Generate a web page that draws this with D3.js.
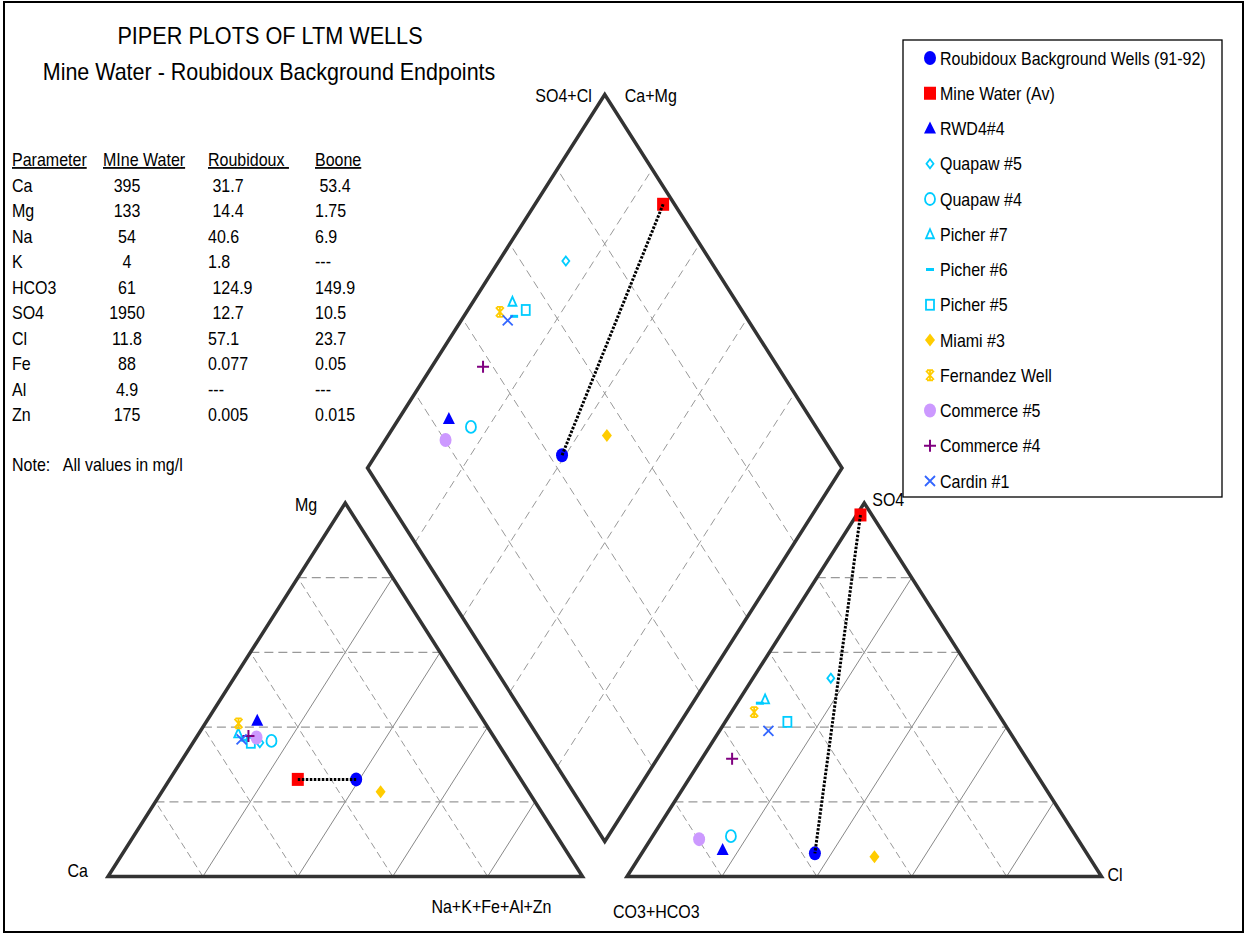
<!DOCTYPE html>
<html>
<head>
<meta charset="utf-8">
<script src="https://cdn.jsdelivr.net/npm/d3@7"></script>
<style>
  body { margin: 0; background: #fff; }
  text { font-family: "Liberation Sans", Arial, sans-serif; fill: #000; white-space: pre; }
</style>
</head>
<body>
<div id="chart"></div>
<script>

// wells in legend order
var wells = ["Roubidoux Background Wells (91-92)", "Mine Water (Av)", "RWD4#4", "Quapaw #5",
  "Quapaw #4", "Picher #7", "Picher #6", "Picher #5", "Miami #3", "Fernandez Well",
  "Commerce #5", "Commerce #4", "Cardin #1"];

// cations, % of meq
var ca  = [34.7, 47.0, 47.7, 50.1, 47.4, 53.4, 52.9, 52.0, 31.2, 52.0, 50.1, 51.6, 53.5];
var mg  = [26.0, 26.0, 41.7, 35.8, 36.3, 38.3, 36.5, 35.8, 22.7, 41.0, 37.2, 37.6, 36.7];
var nak = [39.3, 27.0, 10.6, 14.1, 16.3,  8.3, 10.6, 12.2, 46.1,  7.0, 12.7, 10.8,  9.8];

// anions, % of meq
var hco3 = [57.3,  2.4, 76.3, 30.5, 72.7, 47.2, 48.8, 45.5, 45.2, 51.2, 79.8, 62.1, 50.7];
var so4  = [ 6.2, 96.8,  7.1, 53.1, 10.8, 47.4, 46.4, 41.4,  5.3, 44.0, 10.0, 31.5, 39.0];
var cl   = [36.5,  0.8, 16.6, 16.4, 16.5,  5.4,  4.8, 13.1, 49.5,  4.8, 10.2,  6.4, 10.3];

var colors = ["#0000ff", "#ff0000", "#0000ff", "#00ccff", "#00ccff", "#00ccff", "#00ccff",
  "#00ccff", "#ffcc00", "#ffcc00", "#cc99ff", "#800080", "#3366ff"];
var shapes = ["dot", "square", "tri", "diamondOpen", "circleOpen", "triOpen", "dash",
  "squareOpen", "diamond", "star", "dot", "plus", "x"];

// table
var params    = ["Ca", "Mg", "Na", "K", "HCO3", "SO4", "Cl", "Fe", "Al", "Zn"];
var mineVals  = ["395", "133", "54", "4", "61", "1950", "11.8", "88", "4.9", "175"];
var roubVals  = [" 31.7", " 14.4", "40.6", "1.8", " 124.9", " 12.7", "57.1", "0.077", "---", "0.005"];
var booneVals = [" 53.4", "1.75", "6.9", "---", "149.9", "10.5", "23.7", "0.05", "---", "0.015"];

var width = 1249, height = 937;

var svg = d3.select("#chart")
  .append("svg")
    .attr("width", width)
    .attr("height", height);

// frame
svg.append("rect")
  .attr("x", 4).attr("y", 2).attr("width", 1239).attr("height", 930)
  .attr("fill", "none").attr("stroke", "#000").attr("stroke-width", 2);

// text is a bit condensed in the original
var squeeze = 0.91;
function txt(g, s, x, y, size, anchor) {
  return g.append("text")
    .attr("transform", "translate(" + x + "," + y + ") scale(" + squeeze + ",1)")
    .attr("text-anchor", anchor || "start")
    .attr("font-size", size)
    .text(s);
}

// geometry of the piper plot
var W = 474.5, H = 373.5, baseY = 876.5, leftX = 108, gap = 44.5;
var rightX = leftX + W + gap;
var bx = leftX + W + gap / 2, by = baseY - (gap / 2) * (H / (W / 2));

var xCat = d3.scaleLinear().domain([0, 100]).range([leftX, leftX + W]);
var xAn  = d3.scaleLinear().domain([0, 100]).range([rightX, rightX + W]);
var yTri = d3.scaleLinear().domain([0, 100]).range([baseY, baseY - H]);
var xDia = d3.scaleLinear().domain([-100, 100]).range([bx - W / 2, bx + W / 2]);
var yDia = d3.scaleLinear().domain([0, 200]).range([by, by - 2 * H]);

function catPos(i) { return [xCat(nak[i] + mg[i] / 2), yTri(mg[i])]; }
function anPos(i)  { return [xAn(cl[i] + so4[i] / 2), yTri(so4[i])]; }
function diaPos(i) {
  var cm = ca[i] + mg[i], sc = so4[i] + cl[i];
  return [xDia(sc - cm), yDia(sc + cm)];
}

var grid = svg.append("g");
var ticks = [20, 40, 60, 80];

function triGrid(xs) {
  ticks.forEach(function(t) {
    // horizontal
    grid.append("line")
      .attr("x1", xs(t / 2)).attr("y1", yTri(t))
      .attr("x2", xs(100 - t / 2)).attr("y2", yTri(t))
      .attr("stroke", "#999").attr("stroke-width", 1.3).attr("stroke-dasharray", "9,5");
    // parallel to left side (solid)
    grid.append("line")
      .attr("x1", xs(t)).attr("y1", yTri(0))
      .attr("x2", xs(t + (100 - t) / 2)).attr("y2", yTri(100 - t))
      .attr("stroke", "#888").attr("stroke-width", 1);
    // parallel to right side (dashed)
    grid.append("line")
      .attr("x1", xs(t)).attr("y1", yTri(0))
      .attr("x2", xs(t / 2)).attr("y2", yTri(t))
      .attr("stroke", "#999").attr("stroke-width", 1).attr("stroke-dasharray", "7,4");
  });
}
triGrid(xCat);
triGrid(xAn);

// diamond grid
ticks.forEach(function(t) {
  grid.append("line")
    .attr("x1", xDia(t)).attr("y1", yDia(t))
    .attr("x2", xDia(t - 100)).attr("y2", yDia(t + 100))
    .attr("stroke", "#999").attr("stroke-width", 1).attr("stroke-dasharray", "8,5");
  grid.append("line")
    .attr("x1", xDia(-t)).attr("y1", yDia(t))
    .attr("x2", xDia(100 - t)).attr("y2", yDia(t + 100))
    .attr("stroke", "#999").attr("stroke-width", 1).attr("stroke-dasharray", "8,5");
});

// outlines
function outline(pts) {
  svg.append("path")
    .attr("d", d3.line()(pts) + "Z")
    .attr("fill", "none").attr("stroke", "#333").attr("stroke-width", 3.5)
    .attr("stroke-linejoin", "miter");
}
outline([[xCat(0), yTri(0)], [xCat(100), yTri(0)], [xCat(50), yTri(100)]]);
outline([[xAn(0), yTri(0)], [xAn(100), yTri(0)], [xAn(50), yTri(100)]]);
outline([[xDia(0), yDia(0)], [xDia(100), yDia(100)], [xDia(0), yDia(200)], [xDia(-100), yDia(100)]]);

// markers
function marker(g, i, x, y) {
  var c = colors[i], s = shapes[i];
  if (s == "dot") {
    g.append("ellipse").attr("cx", x).attr("cy", y).attr("rx", 6).attr("ry", 7).attr("fill", c);
  } else if (s == "square") {
    g.append("rect").attr("x", x - 6).attr("y", y - 6.5).attr("width", 12).attr("height", 13).attr("fill", c);
  } else if (s == "tri") {
    g.append("path").attr("d", "M" + x + "," + (y - 7) + "L" + (x + 6) + "," + (y + 5) + "L" + (x - 6) + "," + (y + 5) + "Z").attr("fill", c);
  } else if (s == "triOpen") {
    g.append("path").attr("d", "M" + x + "," + (y - 5) + "L" + (x + 4) + "," + (y + 4) + "L" + (x - 4) + "," + (y + 4) + "Z")
      .attr("fill", "none").attr("stroke", c).attr("stroke-width", 1.8);
  } else if (s == "diamondOpen") {
    g.append("path").attr("d", "M" + x + "," + (y - 4.5) + "L" + (x + 3.5) + "," + y + "L" + x + "," + (y + 4.5) + "L" + (x - 3.5) + "," + y + "Z")
      .attr("fill", "none").attr("stroke", c).attr("stroke-width", 1.8);
  } else if (s == "diamond") {
    g.append("path").attr("d", "M" + x + "," + (y - 6.5) + "L" + (x + 5) + "," + y + "L" + x + "," + (y + 6.5) + "L" + (x - 5) + "," + y + "Z")
      .attr("fill", c);
  } else if (s == "circleOpen") {
    g.append("ellipse").attr("cx", x).attr("cy", y).attr("rx", 5).attr("ry", 6)
      .attr("fill", "none").attr("stroke", c).attr("stroke-width", 1.8);
  } else if (s == "squareOpen") {
    g.append("rect").attr("x", x - 4).attr("y", y - 5).attr("width", 8).attr("height", 10)
      .attr("fill", "none").attr("stroke", c).attr("stroke-width", 1.8);
  } else if (s == "dash") {
    g.append("line").attr("x1", x - 4).attr("y1", y).attr("x2", x + 4).attr("y2", y)
      .attr("stroke", c).attr("stroke-width", 3);
  } else if (s == "plus") {
    g.append("path").attr("d", "M" + (x - 6) + "," + y + "H" + (x + 6) + "M" + x + "," + (y - 6) + "V" + (y + 6))
      .attr("stroke", c).attr("stroke-width", 2);
  } else if (s == "x") {
    g.append("path").attr("d", "M" + (x - 5) + "," + (y - 5) + "L" + (x + 5) + "," + (y + 5) + "M" + (x + 5) + "," + (y - 5) + "L" + (x - 5) + "," + (y + 5))
      .attr("stroke", c).attr("stroke-width", 1.8);
  } else if (s == "star") {
    // asterisk: x plus a vertical stroke
    g.append("path").attr("d", "M" + x + "," + (y - 5.5) + "V" + (y + 5.5) +
      "M" + (x - 4) + "," + (y - 4.5) + "L" + (x + 4) + "," + (y + 4.5) + "M" + (x + 4) + "," + (y - 4.5) + "L" + (x - 4) + "," + (y + 4.5) +
      "M" + (x - 3) + "," + (y - 5) + "H" + (x + 3) + "M" + (x - 3) + "," + (y + 5) + "H" + (x + 3))
      .attr("stroke", c).attr("stroke-width", 1.8);
  }
}

var pts = svg.append("g");
[catPos, anPos, diaPos].forEach(function(pos) {
  wells.forEach(function(w, i) {
    var p = pos(i);
    marker(pts, i, p[0], p[1]);
  });
  // tie line mine water - roubidoux
  var a = pos(1), b = pos(0);
  pts.append("line")
    .attr("x1", a[0]).attr("y1", a[1]).attr("x2", b[0]).attr("y2", b[1])
    .attr("stroke", "#000").attr("stroke-width", 3).attr("stroke-dasharray", "2.5,1.5");
});

// vertex labels
var fs = 17.6;
txt(svg, "Mg", xCat(50) - 28, yTri(100) + 8, fs, "end");
txt(svg, "Ca", xCat(0) - 20, baseY, fs, "end");
txt(svg, "Na+K+Fe+Al+Zn", xCat(100) - 31, baseY + 36, fs, "end");
txt(svg, "SO4+Cl", xDia(0) - 13, yDia(200) + 8, fs, "end");
txt(svg, "Ca+Mg", xDia(0) + 20, yDia(200) + 8, fs, "start");
txt(svg, "SO4", xAn(50) + 8, yTri(100) + 3, fs, "start");
txt(svg, "Cl", xAn(100) + 6, baseY + 4, fs, "start");
txt(svg, "CO3+HCO3", xAn(0) - 14, baseY + 41, fs, "start");

// title
txt(svg, "PIPER PLOTS OF LTM WELLS", 270, 44, 23.8, "middle");
txt(svg, "Mine Water - Roubidoux Background Endpoints", 269, 80, 23.6, "middle");

// parameter table
var tbl = svg.append("g");
var rowY = d3.scaleLinear().domain([0, 1]).range([166, 191.5]);
[["Parameter", 12], ["MIne Water", 103], ["Roubidoux ", 208], ["Boone", 315]].forEach(function(h) {
  txt(tbl, h[0], h[1], rowY(0), fs).attr("text-decoration", "underline");
});
params.forEach(function(p, i) {
  var y = rowY(i + 1);
  txt(tbl, p, 12, y, fs);
  txt(tbl, mineVals[i], 127, y, fs, "middle");
  txt(tbl, roubVals[i], 208, y, fs);
  txt(tbl, booneVals[i], 315, y, fs);
});
txt(tbl, "Note:   All values in mg/l", 12, 471, fs);

// legend
var leg = svg.append("g");
leg.append("rect").attr("x", 903).attr("y", 40).attr("width", 319).attr("height", 457)
  .attr("fill", "#fff").attr("stroke", "#000").attr("stroke-width", 1.3);
var legY = d3.scaleLinear().domain([0, 12]).range([58, 481]);
wells.forEach(function(w, i) {
  var y = legY(i);
  marker(leg, i, 930, y);
  txt(leg, w, 940, y + 6.5, fs);
});

</script>
</body>
</html>
